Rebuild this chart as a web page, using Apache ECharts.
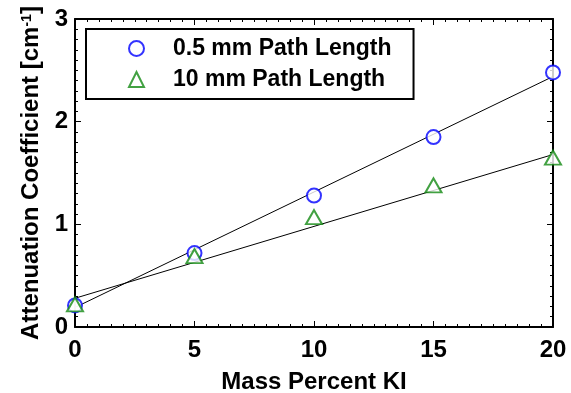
<!DOCTYPE html>
<html>
<head>
<meta charset="utf-8">
<script src="https://cdn.jsdelivr.net/npm/echarts@6/dist/echarts.min.js"></script>
<style>
    html, body { margin: 0; padding: 0; background: #fff; }
    #chart { width: 571px; height: 393px; }
</style>
</head>
<body>
<div id="chart"></div>
<script>
// data
const massPercent = [0, 5, 10, 15, 20];
const thinPath = [0.21, 0.72, 1.28, 1.85, 2.48];     // 0.5 mm
const thickPath = [0.22, 0.69, 1.07, 1.38, 1.65];    // 10 mm
const thinFit = [[0, 0.19], [20, 2.44]];
const thickFit = [[0, 0.28], [20, 1.68]];
const xTicks = [0, 5, 10, 15, 20];
const yTicks = [0, 1, 2, 3];

const FONT = '"Liberation Sans", Arial, sans-serif';

const chart = echarts.init(document.getElementById('chart'));

const pairs = (xs, ys) => xs.map((x, i) => [x, ys[i]]);

// shared axis look: thick black box, ticks pointing inward
const boxAxis = (extra) => Object.assign({
    axisLine: { show: true, onZero: false, lineStyle: { color: '#000', width: 2 } },
    axisTick: { show: true, inside: true, length: 6, lineStyle: { color: '#000', width: 1 } },
    minorTick: { show: true, splitNumber: 10, length: 3, lineStyle: { color: '#000', width: 1 } },
    splitLine: { show: false },
    minorSplitLine: { show: false }
}, extra);

const option = {
    backgroundColor: '#fff',
    animation: false,
    textStyle: { fontFamily: FONT },
    grid: { left: 75, right: 18, top: 19, bottom: 66, outerBoundsMode: 'none', containLabel: false },
    legend: {
        data: ['0.5 mm Path Length', '10 mm Path Length'],
        orient: 'vertical',
        left: 86,
        top: 29,
        padding: [8, 22, 8, 42],
        itemGap: 8,
        itemWidth: 15,
        itemHeight: 15,
        borderColor: '#000',
        borderWidth: 2,
        textStyle: { fontFamily: FONT, fontSize: 23, fontWeight: 'bold', color: '#000', padding: [0, 0, 0, 24] }
    },
    xAxis: [
        boxAxis({
            type: 'value', position: 'bottom', min: 0, max: 20, interval: 5,
            name: 'Mass Percent KI', nameLocation: 'middle', nameGap: 43,
            nameTextStyle: { fontFamily: FONT, fontSize: 24, fontWeight: 'bold', color: '#000' },
            axisLabel: {
                fontFamily: FONT, fontSize: 24, fontWeight: 'bold', color: '#000', margin: 11,
                formatter: (v) => xTicks.includes(v) ? String(v) : ''
            }
        }),
        boxAxis({
            type: 'value', position: 'top', min: 0, max: 20, interval: 5,
            axisLabel: { show: false }
        })
    ],
    yAxis: [
        boxAxis({
            type: 'value', position: 'left', min: 0, max: 3, interval: 1,
            name: '{t|Attenuation Coefficient [cm}{s|-1}{t|]}',
            nameLocation: 'middle', nameGap: 30,
            nameTextStyle: {
                rich: {
                    t: { fontFamily: FONT, fontSize: 24, fontWeight: 'bold', color: '#000' },
                    s: { fontFamily: FONT, fontSize: 14, fontWeight: 'bold', color: '#000', verticalAlign: 'top', padding: [0, 0, 10, 0] }
                }
            },
            axisLabel: {
                fontFamily: FONT, fontSize: 24, fontWeight: 'bold', color: '#000', margin: 7,
                formatter: (v) => yTicks.includes(v) ? String(v) : ''
            }
        }),
        boxAxis({
            type: 'value', position: 'right', min: 0, max: 3, interval: 1,
            axisLabel: { show: false }
        })
    ],
    series: [
        {
            name: 'fit 0.5',
            type: 'line',
            data: thinFit,
            symbol: 'none',
            lineStyle: { color: '#000', width: 1 },
            silent: true,
            z: 1
        },
        {
            name: 'fit 10',
            type: 'line',
            data: thickFit,
            symbol: 'none',
            lineStyle: { color: '#000', width: 1 },
            silent: true,
            z: 1
        },
        {
            name: '0.5 mm Path Length',
            type: 'scatter',
            data: pairs(massPercent, thinPath),
            symbol: 'emptyCircle',
            symbolSize: 14,
            itemStyle: { color: '#0000ff', borderColor: '#0000ff', borderWidth: 1.3 },
            z: 3
        },
        {
            name: '10 mm Path Length',
            type: 'scatter',
            data: pairs(massPercent, thickPath),
            symbol: 'emptyTriangle',
            symbolSize: [16, 14],
            itemStyle: { color: '#138a13', borderColor: '#138a13', borderWidth: 1.3 },
            z: 3
        }
    ]
};

chart.setOption(option);
</script>
</body>
</html>
